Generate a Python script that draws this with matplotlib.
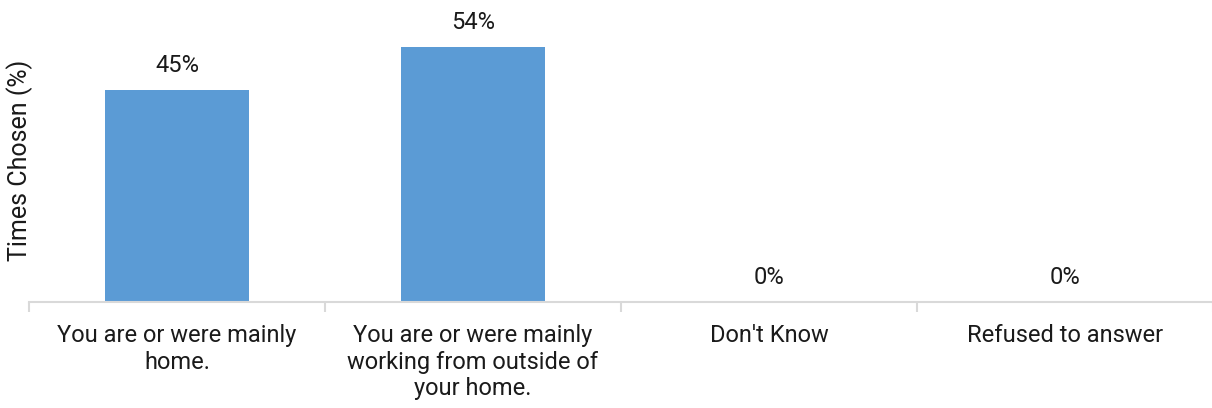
import matplotlib.pyplot as plt

categories = [
    "You are or were mainly\nhome.",
    "You are or were mainly\nworking from outside of\nyour home.",
    "Don't Know",
    "Refused to answer",
]
values = [45, 54, 0, 0]
labels = ["45%", "54%", "0%", "0%"]


def main():
    plt.rcParams["font.family"] = ["Roboto", "DejaVu Sans"]
    fig = plt.figure(figsize=(12.12, 4.08), dpi=100)
    ax = fig.add_axes([29 / 1212, 106 / 408, 1184 / 1212, 283 / 408])

    x = list(range(len(categories)))
    bars = ax.bar(x, values, width=0.486, color="#5B9BD5")

    for bar, text in zip(bars, labels):
        ax.annotate(text, (bar.get_x() + bar.get_width() / 2, bar.get_height()),
                    xytext=(0, 9.5), textcoords="offset points",
                    ha="center", va="bottom", fontsize=17, color="#1a1a1a",
                    annotation_clip=False)

    ax.set_xlim(-0.5, len(categories) - 0.5)
    ax.set_ylim(0, 60)

    # category labels at centers, tick marks at boundaries
    ax.set_xticks(x)
    ax.set_xticklabels(categories, fontsize=17, color="#1a1a1a", linespacing=1.2)
    ax.tick_params(axis="x", which="major", length=0, pad=16)
    ax.set_xticks([i - 0.5 for i in range(len(categories) + 1)], minor=True)
    ax.tick_params(axis="x", which="minor", length=7, width=1.5, color="#D9D9D9")

    ax.set_yticks([])
    fig.text(20 / 1212, 1 - 160 / 408, "Times Chosen (%)", rotation=90,
             ha="center", va="center", fontsize=18, color="#1a1a1a")

    for side in ["top", "right", "left"]:
        ax.spines[side].set_visible(False)
    ax.spines["bottom"].set_color("#D9D9D9")
    ax.spines["bottom"].set_linewidth(1.5)

    fig.savefig("out.png", dpi=100)


if __name__ == "__main__":
    main()
